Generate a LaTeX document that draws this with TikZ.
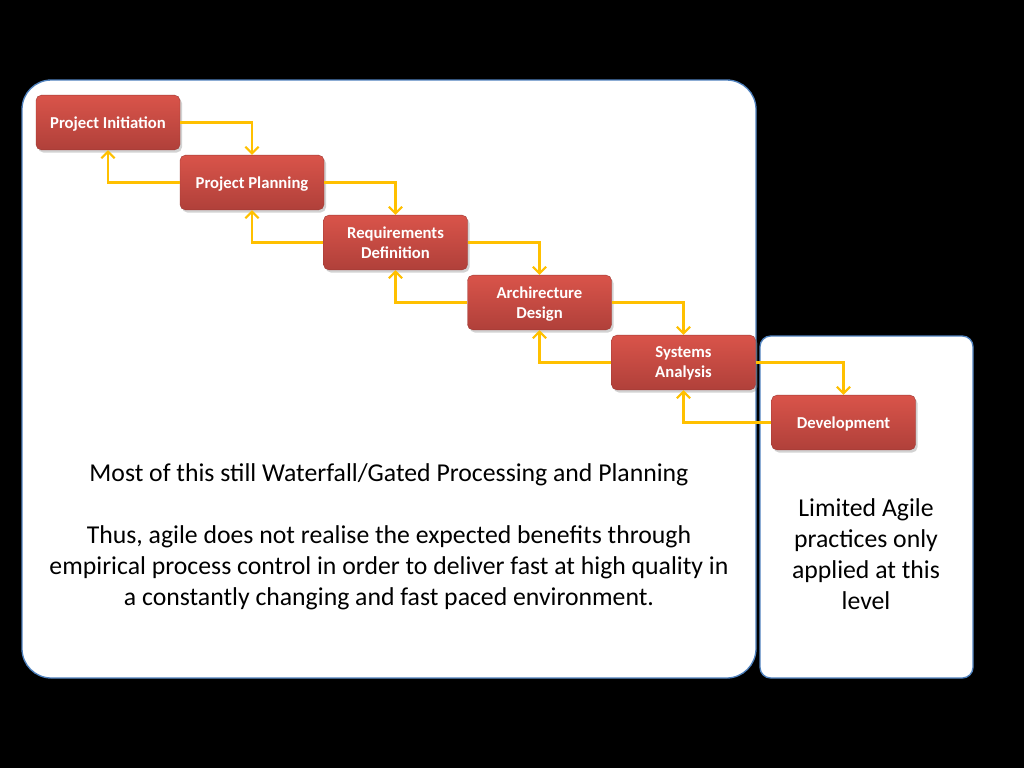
\documentclass[tikz,border=0pt]{standalone}
\usepackage{fontspec}
\setmainfont{Carlito}
\usetikzlibrary{arrows.meta,shadows,positioning}
\definecolor{gold}{HTML}{FFC000}
\definecolor{panelblue}{HTML}{4F81BD}
\definecolor{redtop}{HTML}{D9544A}
\definecolor{redbot}{HTML}{B0403A}
\tikzset{
  stage/.style={rounded corners=4pt, top color=redtop, bottom color=redbot, draw=redbot!90!black, line width=0.3pt,
    minimum width=108pt, minimum height=41pt, text=white, font=\bfseries\fontsize{12.5}{15}\selectfont, align=center,
    text depth=0.5pt, drop shadow={shadow xshift=1.5pt, shadow yshift=-2pt, opacity=0.35}},
  flow/.style={draw=gold, line width=1.6pt, -{Straight Barb[length=5pt,width=10pt,line width=1.6pt]}},
  panel/.style={fill=white, draw=panelblue, line width=1pt},
  body/.style={align=center, font=\fontsize{19.3}{23.25}\selectfont, text=black}
}
\begin{document}
\begin{tikzpicture}[x=0.75pt,y=-0.75pt]
\fill[black] (0,0) rectangle (1024,768);
\useasboundingbox (0,0) rectangle (1024,768);
\draw[panel, rounded corners=22pt] (22,80) rectangle (756,678);
\draw[panel, rounded corners=8pt] (760,336) rectangle (973,678);
\node[stage] (pi) at (108,122.5) {Project Initiation};
\node[stage] (pp) at (252,182.5) {Project Planning};
\node[stage] (rd) at (395.5,242.5) {Requirements\\Definition};
\node[stage] (ad) at (539.5,302.5) {Archirecture\\Design};
\node[stage] (sa) at (683.5,362.5) {Systems\\Analysis};
\node[stage] (dv) at (843.5,422.5) {Development};
\draw[flow] (pi.east) -| (pp.north);
\draw[flow] (pp.east) -| (rd.north);
\draw[flow] (rd.east) -| (ad.north);
\draw[flow] (ad.east) -| (sa.north);
\draw[flow] (sa.east) -| (dv.north);
\draw[flow] (pp.west) -| (pi.south);
\draw[flow] (rd.west) -| (pp.south);
\draw[flow] (ad.west) -| (rd.south);
\draw[flow] (sa.west) -| (ad.south);
\draw[flow] (dv.west) -| (sa.south);
\node[body, anchor=north] (main) at (389,459) {Most of this still Waterfall/Gated Processing and Planning\\[23.25pt]Thus, agile does not realise the expected benefits through\\empirical process control in order to deliver fast at high quality in\\a constantly changing and fast paced environment.};
\node[body, anchor=north] (side) at (866,494) {Limited Agile\\practices only\\applied at this\\level};
\end{tikzpicture}
\end{document}
